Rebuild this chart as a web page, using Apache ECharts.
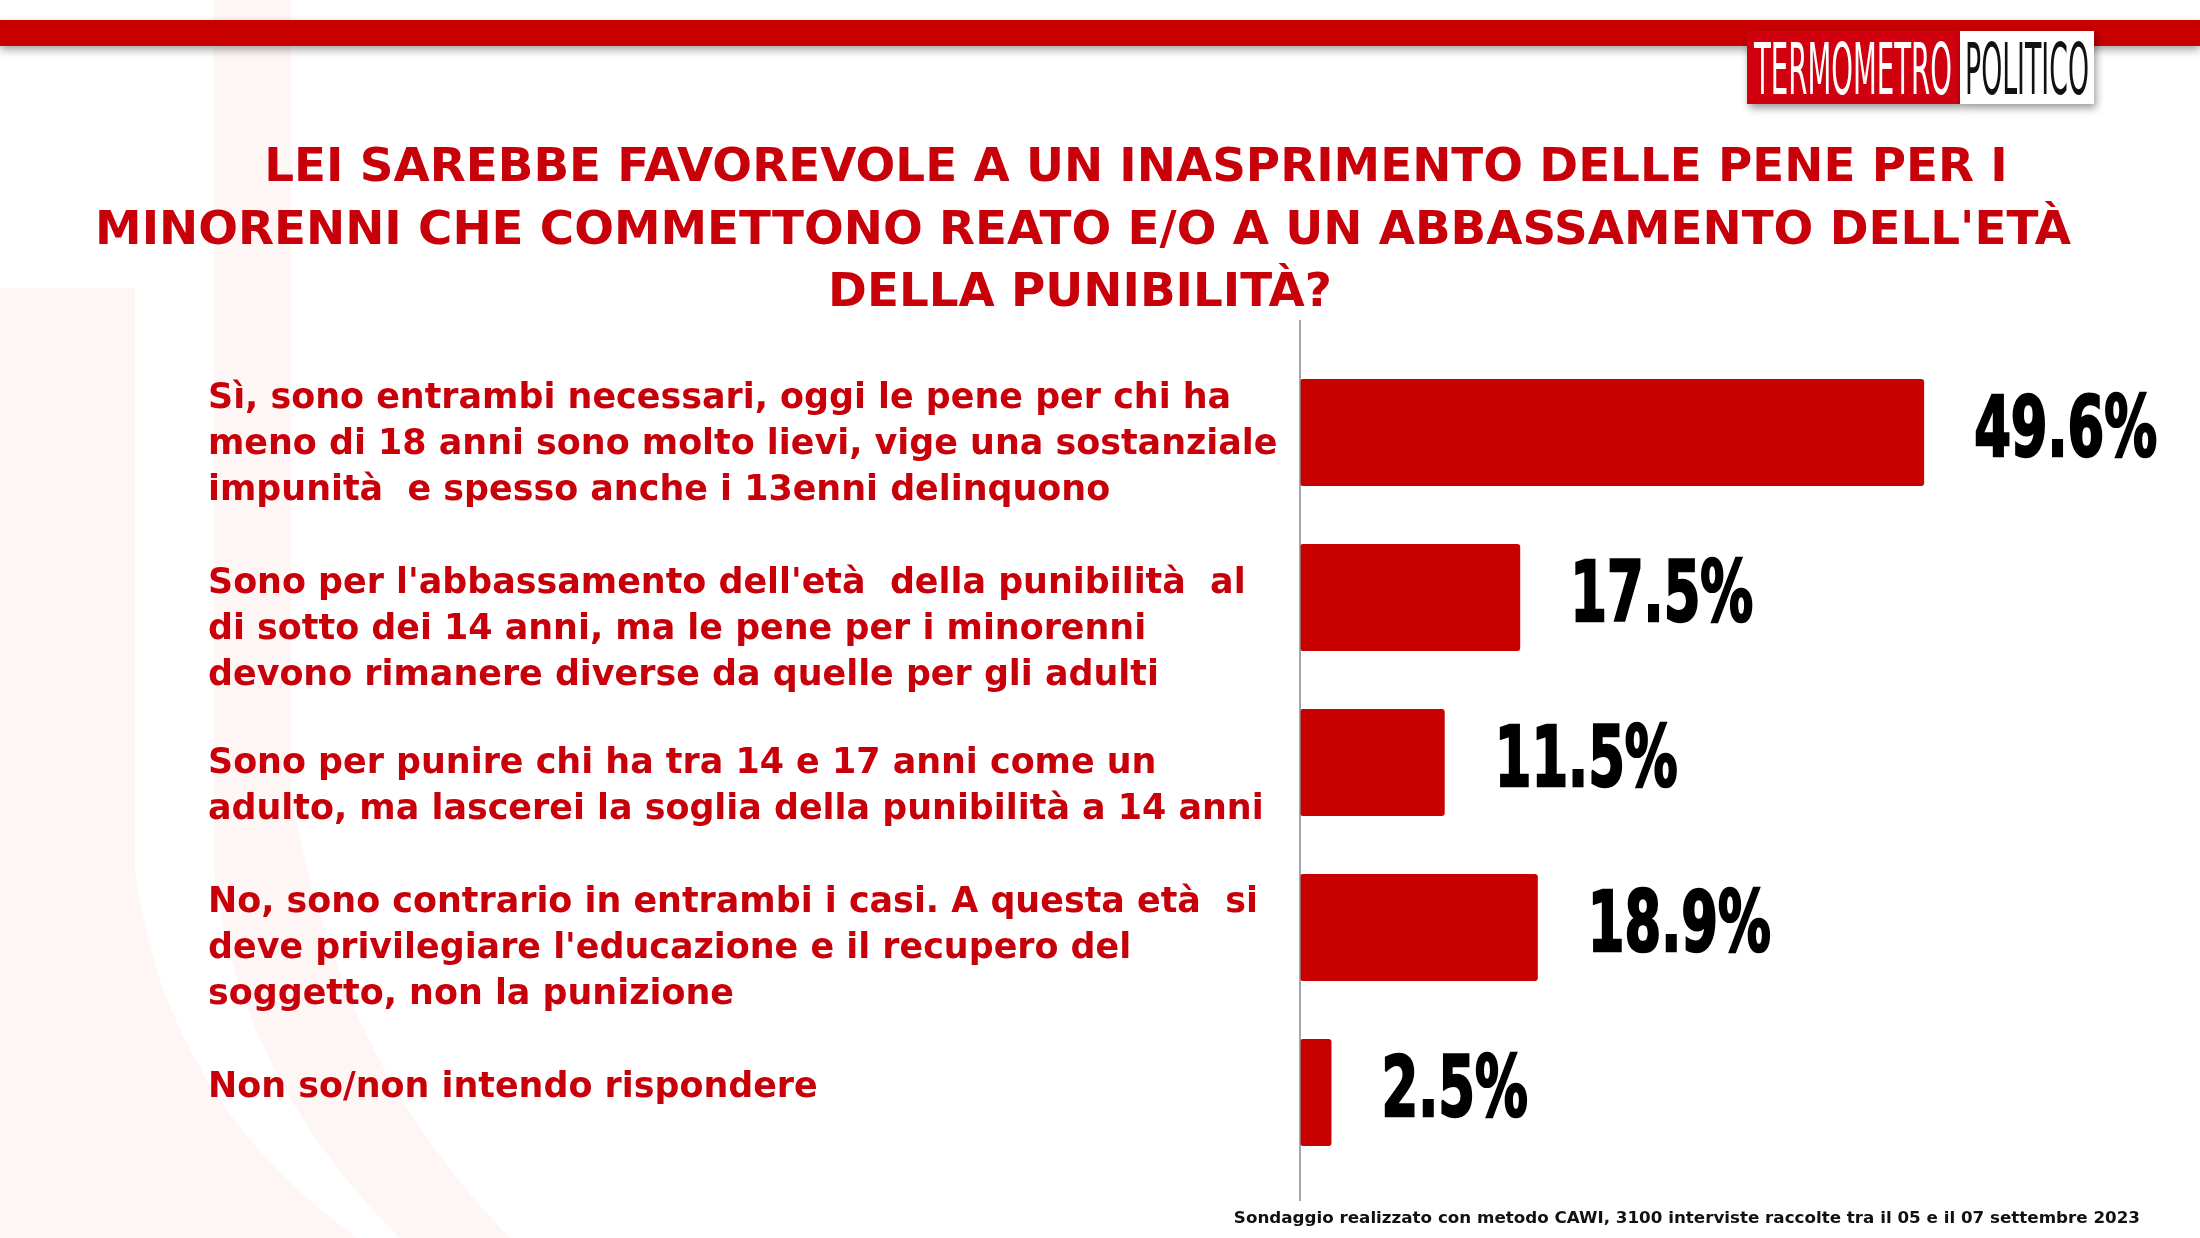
<!DOCTYPE html>
<html><head><meta charset="utf-8">
<script src="https://cdn.jsdelivr.net/npm/echarts@6/dist/echarts.min.js"></script>
<style>html,body{margin:0;padding:0;background:#fff}#c{width:2200px;height:1238px}</style>
</head><body><div id="c"></div>
<script>
// ---- data ----
const categories = [
  "Sì, sono entrambi necessari, oggi le pene per chi ha\nmeno di 18 anni sono molto lievi, vige una sostanziale\nimpunità  e spesso anche i 13enni delinquono",
  "Sono per l'abbassamento dell'età  della punibilità  al\ndi sotto dei 14 anni, ma le pene per i minorenni\ndevono rimanere diverse da quelle per gli adulti",
  "Sono per punire chi ha tra 14 e 17 anni come un\nadulto, ma lascerei la soglia della punibilità a 14 anni",
  "No, sono contrario in entrambi i casi. A questa età  si\ndeve privilegiare l'educazione e il recupero del\nsoggetto, non la punizione",
  "Non so/non intendo rispondere"
];
const values = [49.6, 17.5, 11.5, 18.9, 2.5];
const titleLines = [
  "LEI SAREBBE FAVOREVOLE A UN INASPRIMENTO DELLE PENE PER I",
  "MINORENNI CHE COMMETTONO REATO E/O A UN ABBASSAMENTO DELL'ETÀ",
  "DELLA PUNIBILITÀ?"
];
const footnote = "Sondaggio realizzato con metodo CAWI, 3100 interviste raccolte tra il 05 e il 07 settembre 2023";
const logoLeft = "TERMOMETRO";
const logoRight = "POLITICO";

// ---- layout helpers ----
const RED = '#c80000';
const TXT = '#c8000a';
const ctx = document.createElement('canvas').getContext('2d');
function mw(text, font) { ctx.font = font; return ctx.measureText(text).width; }
function fit(text, weight, family, target) { return 100 * target / mw(text, weight + ' 100px ' + family); }
function quad(p0, p1, p2, n) {
  const pts = [];
  for (let i = 0; i <= n; i++) {
    const t = i / n, u = 1 - t;
    pts.push([u*u*p0[0] + 2*u*t*p1[0] + t*t*p2[0], u*u*p0[1] + 2*u*t*p1[1] + t*t*p2[1]]);
  }
  return pts;
}

const TITLE_FAM = "'DejaVu Sans', sans-serif";
const LABEL_FAM = "'DejaVu Sans', sans-serif";
const NUM_FAM = "'DejaVu Sans Condensed', 'DejaVu Sans', sans-serif";
const LOGO_FAM = "'DejaVu Sans Condensed', 'DejaVu Sans', sans-serif";

const titleSize = fit(titleLines[1], 'bold', TITLE_FAM, 1976);
const labelSize = fit("meno di 18 anni sono molto lievi, vige una sostanziale", 'bold', LABEL_FAM, 1070);
const footSize = fit(footnote, 'bold', LABEL_FAM, 907);

const numSize = 84;
const numFont = 'bold ' + numSize + 'px ' + NUM_FAM;
const numScaleX = 183 / mw('49.6%', numFont);

const logoSize = 72;
const logoFont = 'normal ' + logoSize + 'px ' + LOGO_FAM;
const logoLW = mw(logoLeft, logoFont);
const logoRW = mw(logoRight, logoFont);

const labelShift = [12, 32, 24, 21, -5];

// watermark shapes (decorative)
const wm1 = [[0, 288], [135, 288]].concat(quad([135, 871], [165, 1100], [357, 1238], 24)).concat([[0, 1238]]);
const wm2 = [[214, 0], [291, 0]].concat(quad([291, 790], [335, 1060], [510, 1238], 24))
  .concat(quad([400, 1238], [240, 1080], [214, 871], 24));

const chart = echarts.init(document.getElementById('c'));

const graphics = [
  { type: 'polygon', z: -10, shape: { points: wm1 }, style: { fill: '#fef5f5' } },
  { type: 'polygon', z: -10, shape: { points: wm2 }, style: { fill: '#fef5f5' } },
  { type: 'rect', z: 1, shape: { x: 0, y: 20, width: 2200, height: 26 }, style: { fill: RED, shadowBlur: 8, shadowColor: 'rgba(0,0,0,0.35)', shadowOffsetY: 4 } },
  { type: 'rect', z: 2, shape: { x: 1747, y: 31, width: 213, height: 73 }, style: { fill: '#d0000f', shadowBlur: 8, shadowColor: 'rgba(0,0,0,0.4)', shadowOffsetX: 2, shadowOffsetY: 4 } },
  { type: 'rect', z: 2, shape: { x: 1960, y: 31, width: 134, height: 73 }, style: { fill: '#ffffff', shadowBlur: 8, shadowColor: 'rgba(0,0,0,0.4)', shadowOffsetX: 2, shadowOffsetY: 4 } },
  { type: 'text', z: 3, x: 1853, y: 75, scaleX: 198 / logoLW, style: { text: logoLeft, fill: '#fff', font: logoFont, align: 'center', verticalAlign: 'middle' } },
  { type: 'text', z: 3, x: 2027, y: 75, scaleX: 124 / logoRW, style: { text: logoRight, fill: '#111', font: logoFont, align: 'center', verticalAlign: 'middle' } },
  { type: 'text', z: 3, x: 1136, y: 169, style: { text: titleLines[0], fill: TXT, font: 'bold ' + titleSize + 'px ' + TITLE_FAM, align: 'center', verticalAlign: 'middle' } },
  { type: 'text', z: 3, x: 1083, y: 232, style: { text: titleLines[1], fill: TXT, font: 'bold ' + titleSize + 'px ' + TITLE_FAM, align: 'center', verticalAlign: 'middle' } },
  { type: 'text', z: 3, x: 1080, y: 294, style: { text: titleLines[2], fill: TXT, font: 'bold ' + titleSize + 'px ' + TITLE_FAM, align: 'center', verticalAlign: 'middle' } },
  { type: 'text', z: 3, x: 2140, y: 1219, style: { text: footnote, fill: '#111', font: 'bold ' + footSize + 'px ' + LABEL_FAM, align: 'right', verticalAlign: 'middle' } }
];

const option = {
  backgroundColor: '#fff',
  animation: false,
  grid: { left: 1300, right: 145, top: 350, height: 825, containLabel: false, outerBoundsMode: 'none' },
  xAxis: { type: 'value', min: 0, max: 60, show: false, splitLine: { show: false } },
  yAxis: {
    type: 'category', inverse: true, data: categories,
    axisLine: { show: false }, axisTick: { show: false }, axisLabel: { show: false }
  },
  series: [{
    type: 'bar', data: values, barWidth: 107,
    itemStyle: { color: RED, borderRadius: 3 },
    label: { show: false }
  }],
  graphic: graphics
};
chart.setOption(option);

// axis line, category labels and value labels positioned via the chart's own scales
const x0 = chart.convertToPixel({ xAxisIndex: 0 }, 0);
graphics.push({ type: 'line', z: 3, shape: { x1: x0, y1: 320, x2: x0, y2: 1201 }, style: { stroke: '#8a8a8a', lineWidth: 1.5 } });
categories.forEach((c, i) => {
  const yc = chart.convertToPixel({ yAxisIndex: 0 }, i);
  graphics.push({ type: 'text', z: 3, x: 208, y: yc + labelShift[i],
    style: { text: c, fill: TXT, font: 'bold ' + labelSize + 'px ' + LABEL_FAM, lineHeight: 46, align: 'left', verticalAlign: 'middle' } });
});
values.forEach((v, i) => {
  const p = chart.convertToPixel({ seriesIndex: 0 }, [v, i]);
  graphics.push({ type: 'text', z: 4, x: p[0] + 50, y: p[1] + 2, scaleX: numScaleX,
    style: { text: v.toFixed(1) + '%', fill: '#000', font: numFont, align: 'left', verticalAlign: 'middle',
      stroke: '#000', lineWidth: 2.5, shadowColor: 'rgba(0,0,0,0.35)', shadowBlur: 4, shadowOffsetX: 1, shadowOffsetY: 1 } });
});
chart.setOption({ graphic: graphics });
</script>
</body></html>
